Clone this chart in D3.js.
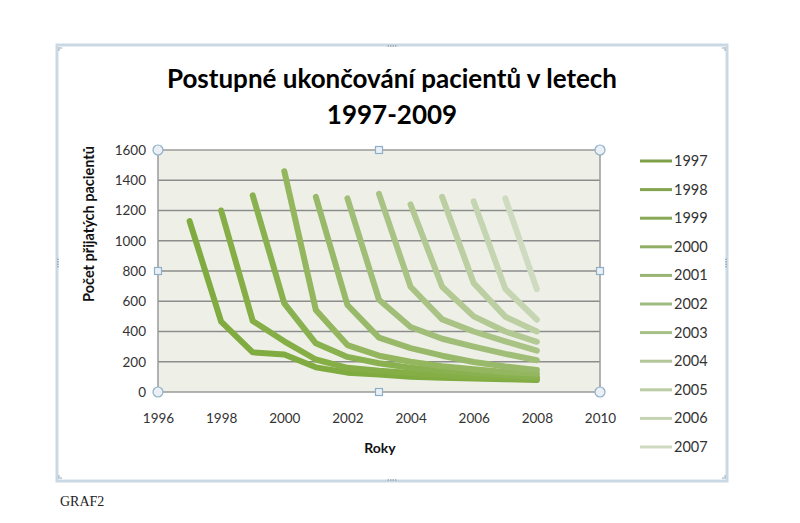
<!DOCTYPE html>
<html><head><meta charset="utf-8">
<script src="https://cdn.jsdelivr.net/npm/d3@7"></script>
<style>
html,body{margin:0;padding:0;background:#fff;}
svg{display:block;}
</style></head>
<body>
<svg id="chart" width="800" height="523"></svg>
<script>
// ---- data ----
const seriesNames = ["1997","1998","1999","2000","2001","2002","2003","2004","2005","2006","2007"];
const startYears = [1997,1998,1999,2000,2001,2002,2003,2004,2005,2006,2007];
const v1997 = [1130, 465, 262, 248, 163, 128, 115, 100, 95, 90, 85, 80];
const v1998 = [1200, 470, 335, 215, 160, 140, 125, 112, 102, 95, 90];
const v1999 = [1300, 586, 322, 232, 190, 160, 140, 125, 112, 100];
const v2000 = [1460, 542, 310, 240, 200, 170, 150, 132, 120];
const v2001 = [1290, 575, 360, 290, 240, 198, 168, 145];
const v2002 = [1280, 610, 430, 352, 300, 252, 210];
const v2003 = [1310, 696, 480, 400, 335, 273];
const v2004 = [1240, 696, 500, 400, 332];
const v2005 = [1290, 720, 498, 400];
const v2006 = [1260, 682, 478];
const v2007 = [1280, 680];
const seriesValues = [v1997,v1998,v1999,v2000,v2001,v2002,v2003,v2004,v2005,v2006,v2007];
const xTicks = [1996,1998,2000,2002,2004,2006,2008,2010];
const yTicks = [0,200,400,600,800,1000,1200,1400,1600];
const colors = ["#80AB40","#85AE47","#8AB150","#93B65E","#99B96A","#A1BE78","#A9C384","#B2C993","#BBCFA2","#C5D5B1","#CFDBC0"];
const legendColors = ["#7F9F48","#84A54D","#89A957","#92AE66","#99B472","#A1BA7F","#A9BF8A","#B2C697","#BCCCA5","#C5D3B3","#CFDAC1"];

const svg = d3.select("#chart");
const font = "Lato, 'Open Sans', sans-serif";

// outer chart frame (selected chart look)
svg.append("rect").attr("x",57).attr("y",45).attr("width",670).attr("height",436)
  .attr("fill","#fff").attr("stroke","#C9D8E3").attr("stroke-width",3);
svg.append("rect").attr("x",58.5).attr("y",46.5).attr("width",667).attr("height",433)
  .attr("fill","none").attr("stroke","#E6EEF4").attr("stroke-width",1);
function dots(cx, cy, vertical){
  for(let i=-1.5;i<=1.5;i++){
    svg.append("circle").attr("cx", vertical?cx:cx+i*2.5).attr("cy", vertical?cy+i*2.5:cy)
      .attr("r",0.8).attr("fill","#8A9AA8");
  }
}
dots(392,46,false); dots(392,480,false); dots(58,263,true); dots(726,263,true);
[[59,48],[725,48],[59,478],[725,478]].forEach(([px,py])=>{
  svg.append("circle").attr("cx",px).attr("cy",py).attr("r",0.8).attr("fill","#8A9AA8");
  svg.append("circle").attr("cx",px+(px<100?2:-2)).attr("cy",py).attr("r",0.8).attr("fill","#8A9AA8");
  svg.append("circle").attr("cx",px).attr("cy",py+(py<100?2:-2)).attr("r",0.8).attr("fill","#8A9AA8");
});

// plot
const x = d3.scaleLinear().domain([1996,2010]).range([158,600]);
const y = d3.scaleLinear().domain([0,1600]).range([392,150]);

svg.append("rect").attr("x",158).attr("y",150).attr("width",442).attr("height",242).attr("fill","#EEF0E8");

svg.append("g").selectAll("line").data(yTicks.filter(d=>d>0 && d<1600)).join("line")
  .attr("x1",158).attr("x2",600).attr("y1",d=>y(d)).attr("y2",d=>y(d))
  .attr("stroke","#8C8C8C").attr("stroke-width",1.3);

svg.append("rect").attr("x",158).attr("y",150).attr("width",442).attr("height",242)
  .attr("fill","none").attr("stroke","#9A9A9A").attr("stroke-width",1.5);

const yAxis = d3.axisLeft(y).tickValues(yTicks).tickSize(0).tickPadding(12).tickFormat(d3.format("d"));
const gy = svg.append("g").attr("transform","translate(158,0)").call(yAxis);
gy.select(".domain").remove();
gy.selectAll("text").attr("font-family",font).attr("font-size",13.5).attr("fill","#333");

const xAxis = d3.axisBottom(x).tickValues(xTicks).tickSize(0).tickPadding(21).tickFormat(d3.format("d"));
const gx = svg.append("g").attr("transform","translate(0,392)").call(xAxis);
gx.select(".domain").remove();
gx.selectAll("text").attr("font-family",font).attr("font-size",13.5).attr("fill","#333");

// lines
const line = d3.line().x(d=>x(d[0])).y(d=>y(d[1]));
const gl = svg.append("g");
seriesValues.forEach((vals,i)=>{
  const pts = vals.map((v,j)=>[startYears[i]+j, v]);
  gl.append("path").datum(pts).attr("d",line)
    .attr("fill","none").attr("stroke",colors[i]).attr("stroke-width",6)
    .attr("stroke-linejoin","round").attr("stroke-linecap","round");
});

// selection handles
const handleStroke = "#8FAFC6", handleFill = "#EAF0F5";
[[158,150],[600,150],[158,392],[600,392]].forEach(([cx,cy])=>{
  svg.append("circle").attr("cx",cx).attr("cy",cy).attr("r",5)
    .attr("fill",handleFill).attr("stroke",handleStroke).attr("stroke-width",1.2);
});
[[379,150],[379,392],[158,271],[600,271]].forEach(([cx,cy])=>{
  svg.append("rect").attr("x",cx-3.5).attr("y",cy-3.5).attr("width",7).attr("height",7)
    .attr("fill",handleFill).attr("stroke",handleStroke).attr("stroke-width",1.2);
});

// title
svg.append("text").attr("x",392).attr("y",88).attr("text-anchor","middle")
  .attr("font-family",font).attr("font-weight","bold").attr("font-size",26).attr("fill","#000")
  .text("Postupné ukončování pacientů v letech");
svg.append("text").attr("x",392).attr("y",124).attr("text-anchor","middle")
  .attr("font-family",font).attr("font-weight","bold").attr("font-size",26).attr("fill","#000")
  .text("1997-2009");

// axis titles
svg.append("text").attr("x",380).attr("y",453).attr("text-anchor","middle")
  .attr("font-family",font).attr("font-weight","bold").attr("font-size",14).attr("fill","#111")
  .text("Roky");
svg.append("text").attr("transform","translate(94,224) rotate(-90)").attr("text-anchor","middle")
  .attr("font-family",font).attr("font-weight","bold").attr("font-size",14.5).attr("fill","#111")
  .text("Počet přijatých pacientů");

// legend
const legend = svg.append("g");
seriesNames.forEach((name,i)=>{
  const ly = 161 + i*28.6;
  legend.append("line").attr("x1",640).attr("x2",672).attr("y1",ly).attr("y2",ly)
    .attr("stroke",legendColors[i]).attr("stroke-width",3);
  legend.append("text").attr("x",674).attr("y",ly+5).attr("font-family",font)
    .attr("font-size",14.5).attr("fill","#333").text(name);
});

// caption
svg.append("text").attr("x",60).attr("y",506).attr("font-family","'Liberation Serif', 'DejaVu Serif', serif")
  .attr("font-size",14).attr("fill","#222").text("GRAF2");
</script>
</body></html>
